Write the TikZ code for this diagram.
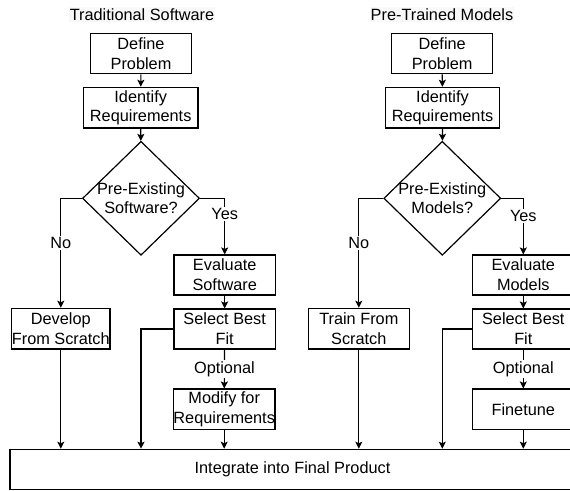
\documentclass[tikz,border=0pt]{standalone}
\usepackage{fontspec}
\setmainfont{Liberation Sans}
\usetikzlibrary{shapes.geometric,arrows.meta}
\definecolor{titlebg}{RGB}{248,248,248}
\tikzset{
  every node/.style={font=\fontsize{16.3}{19.7}\selectfont},
  box/.style={draw, line width=1.2pt, inner sep=0pt, align=center, minimum height=40pt},
  dia/.style={draw, diamond, line width=1.2pt, inner sep=0pt, minimum width=117pt, minimum height=114pt},
  ttl/.style={fill=titlebg, inner xsep=1pt, inner ysep=2pt},
  lbl/.style={fill=white, inner sep=1.5pt},
  arr/.style={line width=1.2pt, -{Stealth[length=7pt,width=7pt,inset=1.5pt]}}
}
\begin{document}
\begin{tikzpicture}[x=1pt,y=-1pt]
\useasboundingbox (0,0) rectangle (570,490);
\clip (0,0) rectangle (570,490);
% titles
\node[ttl] (t1) at (142,14.5) {Traditional Software};
\node[ttl] (t2) at (442,14.5) {Pre-Trained Models};
% left column
\node[box, minimum width=100.6pt] (def1) at (141,53.8) {Define\\Problem};
\node[box, minimum width=114.7pt, minimum height=40.7pt] (id1) at (140.7,107.7) {Identify\\Requirements};
\node[dia, label={[align=center]center:Pre-Existing\\Software?}] (d1) at (141,198.3) {};
\node[box, minimum width=98.3pt, minimum height=40.7pt] (dev) at (60.8,328.7) {Develop\\From Scratch};
\node[box, minimum width=101.3pt] (ev1) at (224.7,275) {Evaluate\\Software};
\node[box, minimum width=101.3pt] (sel1) at (224.7,329) {Select Best\\Fit};
\node[box, minimum width=100.3pt, minimum height=40.3pt] (mod1) at (224.2,409.2) {Modify for\\Requirements};
% right column
\node[box, minimum width=101pt] (def2) at (442.2,53.8) {Define\\Problem};
\node[box, minimum width=114.4pt, minimum height=40.7pt] (id2) at (442.5,107.7) {Identify\\Requirements};
\node[dia, label={[align=center]center:Pre-Existing\\Models?}] (d2) at (442.3,198.3) {};
\node[box, minimum width=101pt, minimum height=40.7pt] (tr) at (358.8,328.7) {Train From\\Scratch};
\node[box, minimum width=102pt] (ev2) at (523.3,275) {Evaluate\\Models};
\node[box, minimum width=102pt] (sel2) at (523.3,329) {Select Best\\Fit};
\node[box, minimum width=102pt, minimum height=40.3pt] (fin) at (523.3,409.2) {Finetune};
% integrate
\node[box, minimum width=565pt, minimum height=40pt] (int) at (292.5,469.3) {Integrate into Final Product};
% connectors left
\draw[arr] (def1) -- (id1);
\draw[arr] (id1) -- (d1);
\draw[arr] (d1.west) -| node[lbl, pos=0.705] {No} (dev);
\draw[arr] (d1.east) -| node[lbl, pos=0.64] {Yes} (ev1);
\draw[arr] (ev1) -- (sel1);
\draw[arr] (sel1) -- node[lbl] {Optional} (mod1);
\draw[arr] (sel1.west) -| (d1 |- int.north);
\draw[arr] (dev) -- (dev |- int.north);
\draw[arr] (mod1) -- (mod1 |- int.north);
% connectors right
\draw[arr] (def2) -- (id2);
\draw[arr] (id2) -- (d2);
\draw[arr] (d2.west) -| node[lbl, pos=0.705] {No} (tr);
\draw[arr] (d2.east) -| node[lbl, pos=0.66] {Yes} (ev2);
\draw[arr] (ev2) -- (sel2);
\draw[arr] (sel2) -- node[lbl] {Optional} (fin);
\draw[arr] (sel2.west) -| (d2 |- int.north);
\draw[arr] (tr) -- (tr |- int.north);
\draw[arr] (fin) -- (fin |- int.north);
\end{tikzpicture}
\end{document}
